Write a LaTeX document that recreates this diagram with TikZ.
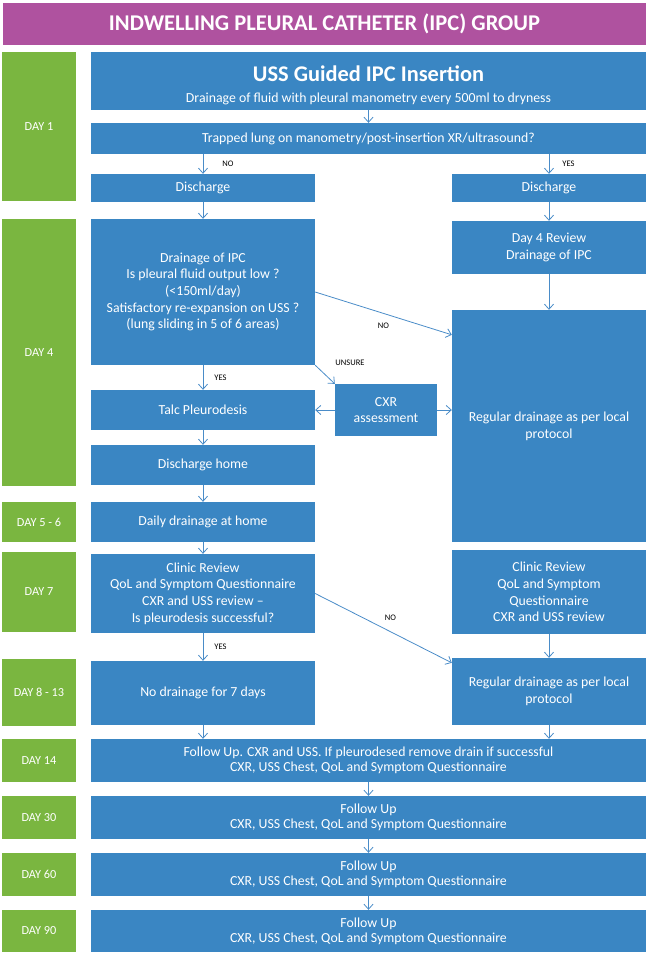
\documentclass[tikz,border=0pt]{standalone}
\usepackage{fontspec}
\setmainfont{Carlito}
\usepackage{xcolor}
\usetikzlibrary{arrows.meta}

\definecolor{ipcblue}{RGB}{58,134,195}
\definecolor{daygreen}{RGB}{122,182,64}
\definecolor{titlepink}{RGB}{175,82,159}
\definecolor{arrowblue}{RGB}{74,140,200}

\begin{document}
\begin{tikzpicture}[
    x=1pt, y=-1pt,
    >={Straight Barb[length=5pt, width=9pt]},
    box/.style={rectangle, fill=ipcblue, text=white, inner sep=2pt, align=center, font=\fontsize{13.8}{16.7}\selectfont},
    day/.style={rectangle, fill=daygreen, text=white, minimum width=74pt, font=\fontsize{12.3}{14}\selectfont},
    lbl/.style={text=black, inner sep=1pt, font=\fontsize{8.5}{9}\selectfont},
    link/.style={draw=arrowblue, line width=0.8pt, ->}
]
\useasboundingbox (0,0) rectangle (650,954);

% Header :
\node[rectangle, fill=titlepink, text=white, minimum width=643pt, minimum height=42pt, font=\fontsize{22.5}{26}\selectfont\bfseries] (title) at (324.5,24) {INDWELLING PLEURAL CATHETER (IPC) GROUP};

% Days :
\node[day, minimum height=149pt] (d1) at (39,126.5) {DAY 1};
\node[day, minimum height=267pt] (d4) at (39,352.5) {DAY 4};
\node[day, minimum height=40pt] (d56) at (39,522) {DAY 5 - 6};
\node[day, minimum height=80pt] (d7) at (39,592) {DAY 7};
\node[day, minimum height=67pt] (d813) at (39,692.5) {DAY 8 - 13};
\node[day, minimum height=43pt] (d14) at (39,760.5) {DAY 14};
\node[day, minimum height=43pt] (d30) at (39,817.5) {DAY 30};
\node[day, minimum height=43pt] (d60) at (39,874.5) {DAY 60};
\node[day, minimum height=42pt] (d90) at (39,931) {DAY 90};

% Boxes :
\node[box, minimum width=555pt, minimum height=58pt] (uss) at (368.5,81) {\rule{0pt}{24pt}{\fontsize{22.4}{24}\selectfont\bfseries USS Guided IPC Insertion}\\[4pt]Drainage of fluid with pleural manometry every 500ml to dryness};
\node[box, minimum width=555pt, minimum height=31pt] (trap) at (368.5,138.5) {Trapped lung on manometry/post-insertion XR/ultrasound?};
\node[box, minimum width=224pt, minimum height=28pt] (disL) at (203,188) {Discharge};
\node[box, minimum width=194pt, minimum height=28pt] (disR) at (549,188) {Discharge};
\node[box, minimum width=224pt, minimum height=146pt] (drain) at (203,292) {Drainage of IPC\\Is pleural fluid output low ?\\(<150ml/day)\\Satisfactory re-expansion on USS ?\\(lung sliding in 5 of 6 areas)};
\node[box, minimum width=194pt, minimum height=53pt] (rev4) at (549,247.5) {Day 4 Review\\Drainage of IPC};
\node[box, minimum width=194pt, minimum height=232pt] (reg1) at (549,426) {Regular drainage as per local\\protocol};
\node[box, minimum width=102pt, minimum height=52pt] (cxr) at (386,410) {CXR\\assessment};
\node[box, minimum width=224pt, minimum height=40pt] (talc) at (203,410) {Talc Pleurodesis};
\node[box, minimum width=224pt, minimum height=40pt] (home) at (203,465) {Discharge home};
\node[box, minimum width=224pt, minimum height=40pt] (daily) at (203,522) {Daily drainage at home};
\node[box, minimum width=224pt, minimum height=79pt] (clinL) at (203,593.5) {Clinic Review\\QoL and Symptom Questionnaire\\CXR and USS review --\\Is pleurodesis successful?};
\node[box, minimum width=194pt, minimum height=84pt] (clinR) at (549,592) {Clinic Review\\QoL and Symptom\\Questionnaire\\CXR and USS review};
\node[box, minimum width=224pt, minimum height=64pt] (nodrain) at (203,693) {No drainage for 7 days};
\node[box, minimum width=194pt, minimum height=67pt] (reg2) at (549,691.5) {Regular drainage as per local\\protocol};
\node[box, minimum width=555pt, minimum height=43pt, font=\fontsize{13.8}{15}\selectfont] (fu14) at (368.5,760.5) {Follow Up. CXR and USS. If pleurodesed remove drain if successful\\CXR, USS Chest, QoL and Symptom Questionnaire};
\node[box, minimum width=555pt, minimum height=43pt, font=\fontsize{13.8}{15}\selectfont] (fu30) at (368.5,817.5) {Follow Up\\CXR, USS Chest, QoL and Symptom Questionnaire};
\node[box, minimum width=555pt, minimum height=43pt, font=\fontsize{13.8}{15}\selectfont] (fu60) at (368.5,874.5) {Follow Up\\CXR, USS Chest, QoL and Symptom Questionnaire};
\node[box, minimum width=555pt, minimum height=42pt, font=\fontsize{13.8}{15}\selectfont] (fu90) at (368.5,931) {Follow Up\\CXR, USS Chest, QoL and Symptom Questionnaire};

% Arrows :
\draw[link] (uss) -- (trap);
\draw[link] (trap.south -| disL) -- (disL) node[lbl, midway, right=18pt] {NO};
\draw[link] (trap.south -| disR) -- (disR) node[lbl, midway, right=12pt] {YES};
\draw[link] (disL) -- (drain);
\draw[link] (disR) -- (rev4);
\draw[link] (rev4) -- (reg1);
\draw[link] (drain.east) -- ([yshift=-25pt]reg1.north west) node[lbl, midway, below=8pt] {NO};
\draw[link] (drain) -- (talc) node[lbl, midway, right=10pt] {YES};
\draw[link] (drain.south east) -- (cxr.north west);
\node[lbl] (unsure) at (350,363) {UNSURE};
\draw[link] (cxr) -- (talc);
\draw[link] (cxr) -- (cxr -| reg1.west);
\draw[link] (talc) -- (home);
\draw[link] (home) -- (daily);
\draw[link] (daily) -- (clinL);
\draw[link] (clinL) -- (nodrain) node[lbl, midway, right=10pt] {YES};
\draw[link] (clinL.east) -- ([yshift=-5pt]reg2.north west) node[lbl, midway, above=6pt, xshift=7pt] {NO};
\draw[link] (clinR) -- (reg2);
\draw[link] (nodrain) -- (nodrain |- fu14.north);
\draw[link] (reg2) -- (reg2 |- fu14.north);
\draw[link] (fu14) -- (fu30);
\draw[link] (fu30) -- (fu60);
\draw[link] (fu60) -- (fu90);

\end{tikzpicture}
\end{document}
